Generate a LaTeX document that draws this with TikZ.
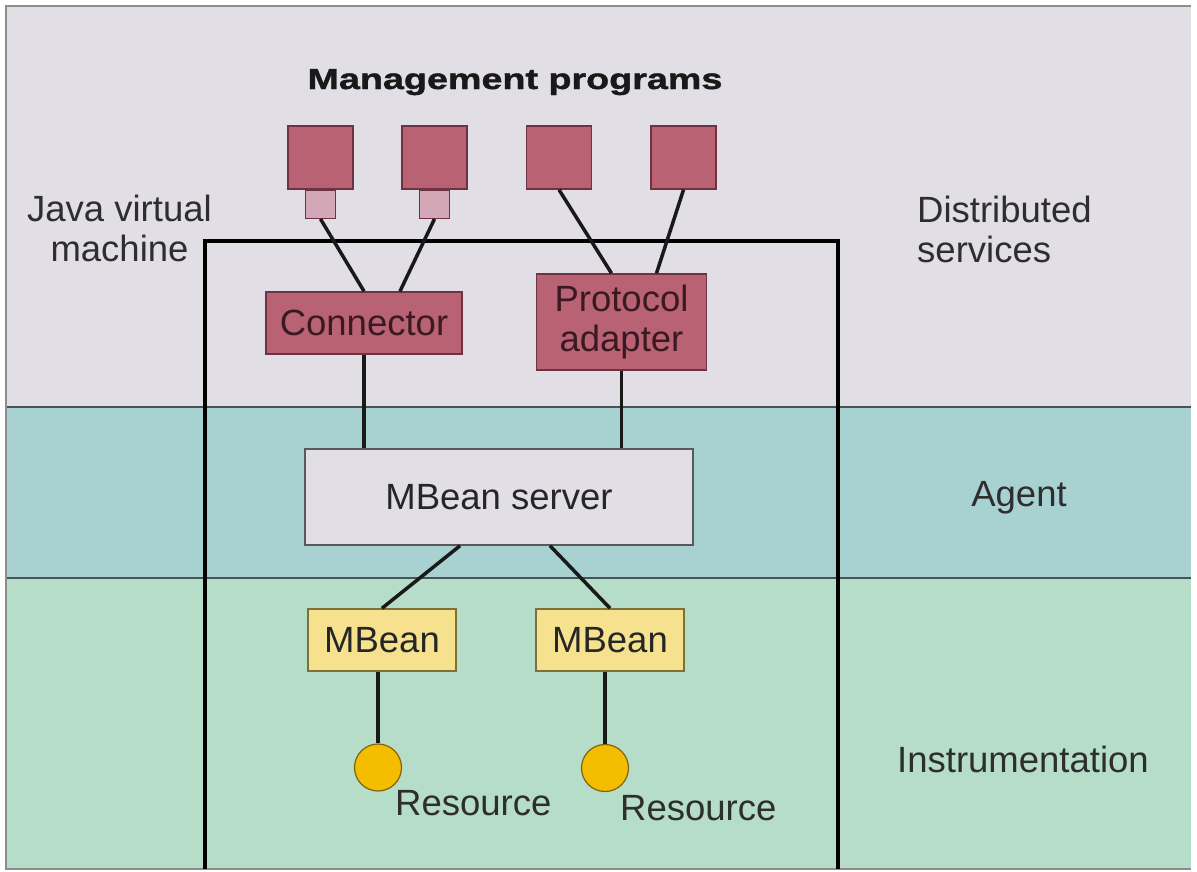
\documentclass[tikz,border=0pt]{standalone}
\usepackage{fontspec}
\setmainfont{Liberation Sans}
\newfontfamily\titlefont[FakeStretch=1.3, FakeBold=1.4]{Liberation Sans}
\usetikzlibrary{positioning}

\definecolor{distband}{HTML}{E1DEE5}
\definecolor{agentband}{HTML}{A8D1D1}
\definecolor{instrband}{HTML}{B5DDC8}
\definecolor{progpink}{HTML}{B96273}
\definecolor{plugpink}{HTML}{D3A7B5}
\definecolor{pinkedge}{HTML}{6E3342}
\definecolor{beanyellow}{HTML}{F6E28E}
\definecolor{beanedge}{HTML}{7D7038}
\definecolor{resamber}{HTML}{F5BD00}
\definecolor{resedge}{HTML}{7E6410}
\definecolor{labelgray}{HTML}{2E2E2E}
\definecolor{boxtext}{HTML}{3A1A22}
\definecolor{rulegray}{HTML}{4A5257}
\definecolor{framegray}{HTML}{8C8C8C}

\begin{document}
\begin{tikzpicture}[
  x=1pt, y=-1pt,
  txt/.style={font=\fontsize{36.5}{40}\selectfont, text=labelgray, inner sep=0pt},
  prog/.style={rectangle, draw=pinkedge, fill=progpink, line width=1.5pt, minimum width=65pt, minimum height=63pt, inner sep=0pt},
  plug/.style={rectangle, draw=pinkedge, fill=plugpink, line width=1.2pt, minimum width=30pt, minimum height=28pt, inner sep=0pt},
  pinkbox/.style={rectangle, draw=pinkedge, fill=progpink, line width=1.5pt, font=\fontsize{36.5}{40}\selectfont, text=boxtext, align=center, inner sep=0pt},
  bean/.style={rectangle, draw=beanedge, fill=beanyellow, line width=1.5pt, minimum width=148pt, minimum height=62pt, font=\fontsize{36.5}{40}\selectfont, text=black!85, inner sep=0pt},
  res/.style={circle, draw=resedge, fill=resamber, line width=1.2pt, minimum size=47pt, inner sep=0pt},
  wire/.style={line width=3.5pt, black!90}
]
\useasboundingbox (0,0) rectangle (1197,871);

% layers
\fill[distband] (6,6) rectangle (1191,407);
\fill[agentband] (6,407) rectangle (1191,578);
\fill[instrband] (6,578) rectangle (1191,869);
\draw[rulegray, line width=2pt] (6,407) -- (1191,407);
\draw[rulegray, line width=2pt] (6,578) -- (1191,578);
\draw[framegray, line width=2pt] (1191,6) -- (6,6) -- (6,869) -- (1191,869);

% java virtual machine
\draw[line width=4pt, line join=miter] (205,869) -- (205,241) -- (838,241) -- (838,869);

\node[txt, font=\titlefont\bfseries\fontsize{29}{32}\selectfont, text=black!90, anchor=base] (title) at (515,89) {Management programs};
\node[txt, align=center] (jvm) at (119.5,228) {Java virtual\\machine};
\node[txt, align=left, anchor=west] (dist) at (917,229) {Distributed\\services};
\node[txt, anchor=base] (agent) at (1019,506) {Agent};
\node[txt, anchor=base west] (instr) at (897,772) {Instrumentation};

\node[prog] (prog1) at (320.5,157.5) {};
\node[prog] (prog2) at (434.5,157.5) {};
\node[prog] (prog3) at (559,157.5) {};
\node[prog] (prog4) at (683.5,157.5) {};
\node[plug, below=0pt of prog1] (plug1) {};
\node[plug, below=0pt of prog2] (plug2) {};

\node[pinkbox, minimum width=196pt, minimum height=62pt] (conn) at (364,323) {Connector};
\node[pinkbox, minimum width=170pt, minimum height=96pt] (adapter) at (621.5,322) {Protocol\\adapter};

\node[rectangle, draw=black!65, fill=distband, line width=1.5pt, minimum width=388pt, minimum height=96pt,
  font=\fontsize{36.5}{40}\selectfont, text=black!85, inner sep=0pt] (server) at (499,497) {MBean server};

\node[bean] (bean1) at (382,640) {MBean};
\node[bean] (bean2) at (610,640) {MBean};

\node[res] (res1) at (378,767.5) {};
\node[res] (res2) at (605,768) {};
\node[txt, anchor=base west] (rlabel1) at (395,815) {Resource};
\node[txt, anchor=base west] (rlabel2) at (620,820) {Resource};

% connections
\draw[wire] (plug1.south) -- (conn.north);
\draw[wire] (plug2.south) -- ([xshift=36pt]conn.north);
\draw[wire] (prog3.south) -- ([xshift=-10pt]adapter.north);
\draw[wire] (prog4.south) -- ([xshift=35pt]adapter.north);
\draw[wire] (conn.south) -- (conn.south |- server.north);
\draw[wire] (adapter.south) -- (adapter.south |- server.north);
\draw[wire] ([xshift=-39pt]server.south) -- (bean1.north);
\draw[wire] ([xshift=51pt]server.south) -- (bean2.north);
\draw[wire] (bean1.south -| res1) -- (res1.north);
\draw[wire] (bean2.south -| res2) -- (res2.north);
\end{tikzpicture}
\end{document}
